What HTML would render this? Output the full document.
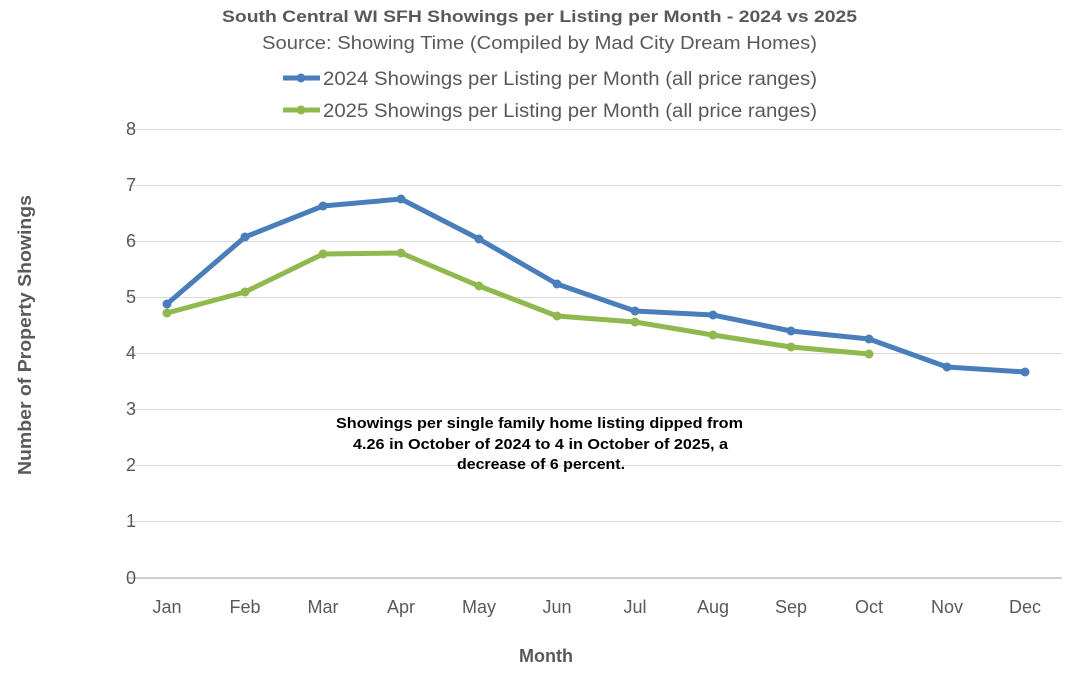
<!DOCTYPE html>
<html><head><meta charset="utf-8"><style>
html,body{margin:0;padding:0;background:#fff;}
svg{display:block;font-family:"Liberation Sans",Arial,sans-serif;}
</style></head><body>
<svg width="1080" height="684" viewBox="0 0 1080 684">
<rect width="1080" height="684" fill="#fff"/>
<g stroke="#d9d9d9" stroke-width="1">
<line x1="128" x2="1062" y1="129.5" y2="129.5"/>
<line x1="128" x2="1062" y1="185.5" y2="185.5"/>
<line x1="128" x2="1062" y1="241.5" y2="241.5"/>
<line x1="128" x2="1062" y1="297.5" y2="297.5"/>
<line x1="128" x2="1062" y1="353.5" y2="353.5"/>
<line x1="128" x2="1062" y1="409.5" y2="409.5"/>
<line x1="128" x2="1062" y1="465.5" y2="465.5"/>
<line x1="128" x2="1062" y1="521.5" y2="521.5"/>
</g>
<line x1="128" x2="1062" y1="578" y2="578" stroke="#bfbfbf" stroke-width="1.5"/>
<g font-size="18" fill="#595959" text-anchor="end">
<text x="136" y="135">8</text><text x="136" y="191">7</text><text x="136" y="247">6</text>
<text x="136" y="303">5</text><text x="136" y="359">4</text><text x="136" y="415">3</text>
<text x="136" y="471">2</text><text x="136" y="527">1</text><text x="136" y="584">0</text>
</g>
<g font-size="18" fill="#595959" text-anchor="middle">
<text x="167" y="613">Jan</text><text x="245" y="613">Feb</text><text x="323" y="613">Mar</text>
<text x="401" y="613">Apr</text><text x="479" y="613">May</text><text x="557" y="613">Jun</text>
<text x="635" y="613">Jul</text><text x="713" y="613">Aug</text><text x="791" y="613">Sep</text>
<text x="869" y="613">Oct</text><text x="947" y="613">Nov</text><text x="1025" y="613">Dec</text>
</g>
<text x="546" y="662" font-size="18" font-weight="bold" fill="#595959" text-anchor="middle">Month</text>
<text transform="translate(31,335) rotate(-90)" font-size="18" font-weight="bold" fill="#595959" text-anchor="middle" textLength="280" lengthAdjust="spacingAndGlyphs">Number of Property Showings</text>
<text x="222" y="22" font-size="17" font-weight="bold" fill="#595959" textLength="635" lengthAdjust="spacingAndGlyphs">South Central WI SFH Showings per Listing per Month - 2024 vs 2025</text>
<text x="262" y="49" font-size="18" fill="#595959" textLength="555" lengthAdjust="spacingAndGlyphs">Source: Showing Time (Compiled by Mad City Dream Homes)</text>
<line x1="283" x2="320" y1="78" y2="78" stroke="#4a7ebb" stroke-width="5"/>
<circle cx="301" cy="78" r="4.5" fill="#4a7ebb"/>
<text x="323" y="85" font-size="19" fill="#595959" textLength="494" lengthAdjust="spacingAndGlyphs">2024 Showings per Listing per Month (all price ranges)</text>
<line x1="283" x2="320" y1="110" y2="110" stroke="#8fb84e" stroke-width="5"/>
<circle cx="301" cy="110" r="4.5" fill="#8fb84e"/>
<text x="323" y="117" font-size="19" fill="#595959" textLength="494" lengthAdjust="spacingAndGlyphs">2025 Showings per Listing per Month (all price ranges)</text>
<g fill="none" stroke-width="5" stroke-linejoin="round">
<polyline stroke="#4a7ebb" points="167,304 245,237 323,206 401,199 479,239 557,284 635,311 713,315 791,331 869,339 947,367 1025,372"/>
<polyline stroke="#8fb84e" points="167,313 245,292 323,254 401,253 479,286 557,316 635,322 713,335 791,347 869,354"/>
</g>
<g fill="#4a7ebb">
<circle cx="167" cy="304" r="4.5"/><circle cx="245" cy="237" r="4.5"/><circle cx="323" cy="206" r="4.5"/><circle cx="401" cy="199" r="4.5"/><circle cx="479" cy="239" r="4.5"/><circle cx="557" cy="284" r="4.5"/><circle cx="635" cy="311" r="4.5"/><circle cx="713" cy="315" r="4.5"/><circle cx="791" cy="331" r="4.5"/><circle cx="869" cy="339" r="4.5"/><circle cx="947" cy="367" r="4.5"/><circle cx="1025" cy="372" r="4.5"/>
</g>
<g fill="#8fb84e">
<circle cx="167" cy="313" r="4.5"/><circle cx="245" cy="292" r="4.5"/><circle cx="323" cy="254" r="4.5"/><circle cx="401" cy="253" r="4.5"/><circle cx="479" cy="286" r="4.5"/><circle cx="557" cy="316" r="4.5"/><circle cx="635" cy="322" r="4.5"/><circle cx="713" cy="335" r="4.5"/><circle cx="791" cy="347" r="4.5"/><circle cx="869" cy="354" r="4.5"/>
</g>
<g font-size="15" font-weight="bold" fill="#000">
<text x="336" y="428" textLength="407" lengthAdjust="spacingAndGlyphs">Showings per single family home listing dipped from</text>
<text x="353" y="449" textLength="375" lengthAdjust="spacingAndGlyphs">4.26 in October of 2024 to 4 in October of 2025, a</text>
<text x="457" y="469" textLength="168" lengthAdjust="spacingAndGlyphs">decrease of 6 percent.</text>
</g>
</svg>
</body></html>
